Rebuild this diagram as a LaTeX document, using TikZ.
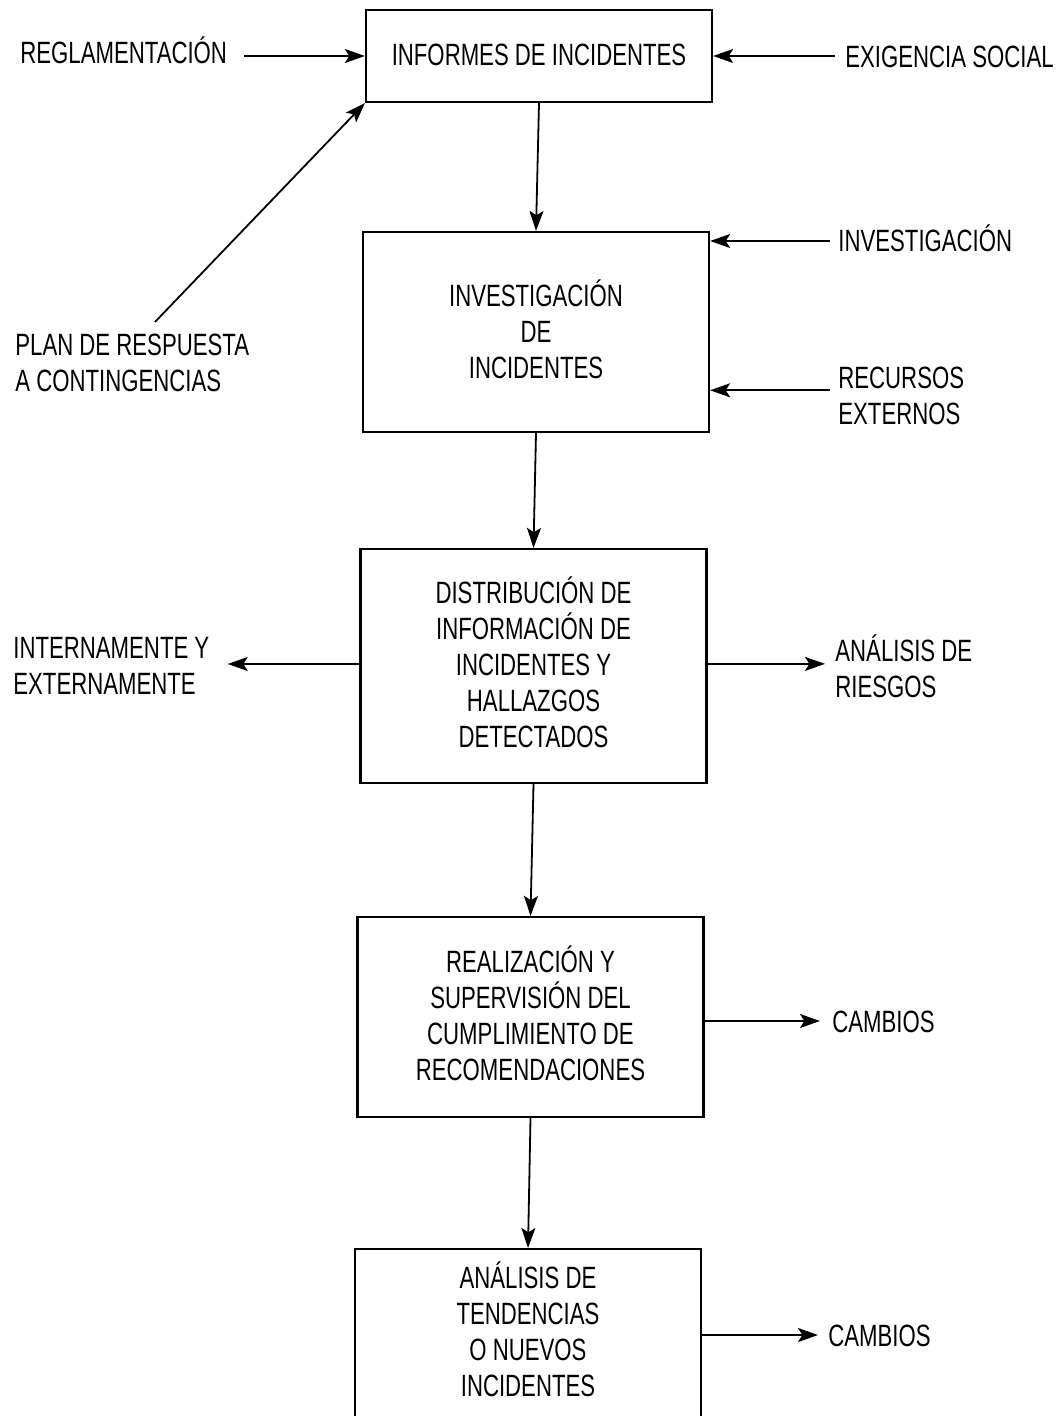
\documentclass[tikz,border=0pt]{standalone}
\usepackage{fontspec}
\setmainfont{Liberation Sans}[FakeStretch=0.72]
\usetikzlibrary{arrows.meta,calc}

\begin{document}
\begin{tikzpicture}[x=0.5pt,y=-0.5pt,
  font=\fontsize{15.4}{18}\selectfont,
  box/.style={draw, line width=1.1pt, inner sep=0pt, minimum width=173pt},
  txt/.style={align=center, inner sep=0pt},
  lbl/.style={align=left, inner sep=0pt},
  one/.style={inner sep=0pt, text height=11pt, text depth=0pt},
  arr/.style={-{Stealth[length=10pt,width=7pt,inset=2.2pt]}, line width=0.9pt}]

  \useasboundingbox[fill=white] (0,0) rectangle (1062,1416);
  \clip (0,0) rectangle (1062,1416);

  % main chain of boxes
  \node[box, minimum height=46pt]  (b1) at (539,56)     {};
  \node[box, minimum height=100pt] (b2) at (536,332)    {};
  \node[box, minimum height=117pt] (b3) at (533.5,666)  {};
  \node[box, minimum height=100pt] (b4) at (530.5,1017) {};
  \node[box, minimum height=91pt]  (b5) at (528,1340)   {};

  % box texts
  \node[txt, one] (t1) at (539,55) {INFORMES DE INCIDENTES};
  \node[txt] (t2) at (536,329)  {INVESTIGACIÓN\\DE\\INCIDENTES};
  \node[txt] (t3) at (533.5,662){DISTRIBUCIÓN DE\\INFORMACIÓN DE\\INCIDENTES Y\\HALLAZGOS\\DETECTADOS};
  \node[txt] (t4) at (530.5,1013){REALIZACIÓN Y\\SUPERVISIÓN DEL\\CUMPLIMIENTO DE\\RECOMENDACIONES};
  \node[txt] (t5) at (528,1329) {ANÁLISIS DE\\TENDENCIAS\\O NUEVOS\\INCIDENTES};

  \draw[arr] (b1.south) -- (b2.north);
  \draw[arr] (b2.south) -- (b3.north);
  \draw[arr] (b3.south) -- (b4.north);
  \draw[arr] (b4.south) -- (b5.north);

  % inputs to the reports box
  \node[one, anchor=west] (reg)  at (20,53)  {REGLAMENTACIÓN};
  \node[one, anchor=west] (exig) at (845,57) {EXIGENCIA SOCIAL};
  \node[lbl, anchor=north west] (plan) at (15,334) {PLAN DE RESPUESTA\\A CONTINGENCIAS};

  \draw[arr] ($(reg.east |- b1.west)+(17,0)$) -- (b1.west);
  \draw[arr] ($(exig.west |- b1.east)+(-10,0)$) -- (b1.east);
  \draw[arr] ($(plan.north west)+(140,-12)$) -- (b1.south west);

  % inputs to the investigation box
  \node[one, anchor=west] (inv) at (838,241) {INVESTIGACIÓN};
  \node[lbl, anchor=north west] (rec) at (838,367) {RECURSOS\\EXTERNOS};

  \draw[arr] ($(inv.west)+(-8,0)$) -- (inv.west -| b2.east);
  \draw[arr] ($(rec.west)+(-8,-6)$) -- ($(rec.west -| b2.east)+(0,-6)$);

  % outputs of the distribution box
  \node[lbl, anchor=north west] (int) at (13,637) {INTERNAMENTE Y\\EXTERNAMENTE};
  \node[lbl, anchor=north west] (ana) at (835,634) {ANÁLISIS DE\\RIESGOS};

  \draw[arr] ($(int.east -| b3.west)+(0,-2)$) -- ($(int.east)+(18,-2)$);
  \draw[arr] ($(ana.west -| b3.east)+(0,-2)$) -- ($(ana.west)+(-10,-2)$);

  % changes
  \node[one, anchor=west] (cam1) at (832,1021) {CAMBIOS};
  \node[one, anchor=west] (cam2) at (828,1335) {CAMBIOS};

  \draw[arr] (cam1.west -| b4.east) -- ($(cam1.west)+(-12,0)$);
  \draw[arr] (cam2.west -| b5.east) -- ($(cam2.west)+(-10,0)$);
\end{tikzpicture}
\end{document}
